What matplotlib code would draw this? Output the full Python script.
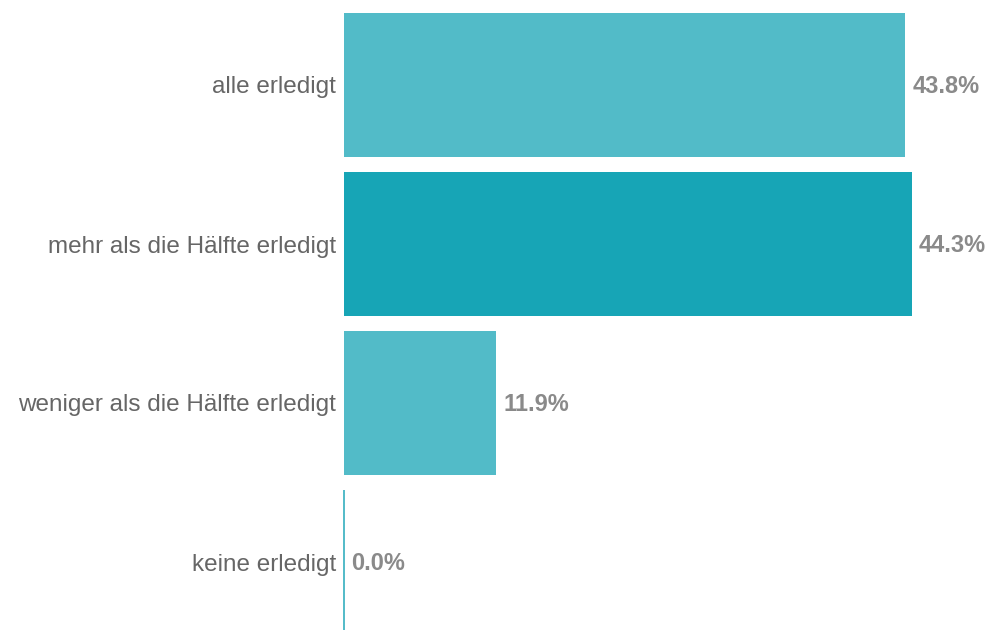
import matplotlib.pyplot as plt

categorias = ['alle erledigt', 'mehr als die Hälfte erledigt',
              'weniger als die Hälfte erledigt', 'keine erledigt']
valores = [43.8, 44.3, 11.9, 0.0]
colores = ['#52bbc8', '#17a5b6', '#52bbc8', '#52bbc8']

plt.rcParams['font.family'] = ['Liberation Sans', 'DejaVu Sans']

fig = plt.figure(figsize=(9.9, 6.3), dpi=100)
ax = fig.add_axes([343 / 990, 0, 641 / 990, 1])

pos = list(range(len(categorias)))
ax.barh(pos, valores, height=0.906, color=colores, linewidth=0)

# las barras con 0 % se ven como una línea fina
for p, v, c in zip(pos, valores, colores):
    if v == 0:
        ax.vlines(v, p - 0.453, p + 0.453, color=c, linewidth=1.4)

ax.set_xlim(-0.05, 49.95)
ax.set_ylim(3 + 68 / 159, -85 / 159)

# etiquetas de valor
for p, v in zip(pos, valores):
    ax.text(v + 0.55, p + 0.01, f'{v:.1f}%', va='center', ha='left',
            fontsize=17, fontweight='bold', color='#8a8a8a')

ax.set_yticks(pos)
ax.set_yticklabels(categorias, fontsize=17.5, color='#666666')
ax.tick_params(axis='y', length=0, pad=5)
ax.set_xticks([])
for s in ax.spines.values():
    s.set_visible(False)

fig.savefig('out.png', dpi=100)
